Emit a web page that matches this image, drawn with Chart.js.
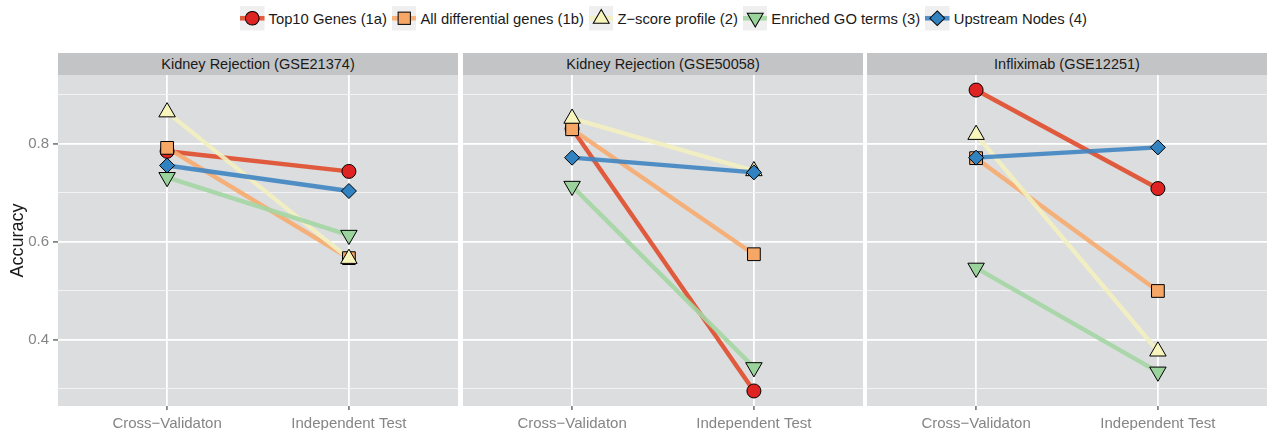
<!DOCTYPE html>
<html>
<head>
<meta charset="utf-8">
<script src="https://cdn.jsdelivr.net/npm/chart.js@4.4.0/dist/chart.umd.min.js"></script>
<style>
    body { margin: 0; background: #fff; font-family: "Liberation Sans", Arial, sans-serif; }
    #wrap { position: relative; width: 1267px; height: 430px; overflow: hidden; }
    #legend { position: absolute; top: 6px; left: 240px; height: 25px;
        display: flex; align-items: center; font-size: 14.8px; color: #1a1a1a; }
    .item { display: flex; align-items: center; }
    .item span { margin-left: 4px; margin-right: 5px; white-space: nowrap; }
    .strip { position: absolute; top: 53px; height: 22px; line-height: 22px; background: #C3C4C6;
        text-align: center; font-size: 14.5px; color: #1a1a1a; white-space: nowrap; }
    canvas { position: absolute; top: 75px; }
</style>
</head>
<body>
<div id="wrap">
    <div id="legend"></div>
    <div class="strip" style="left:58px;width:400px">Kidney Rejection (GSE21374)</div>
    <div class="strip" style="left:463px;width:400px">Kidney Rejection (GSE50058)</div>
    <div class="strip" style="left:867px;width:400px">Infliximab (GSE12251)</div>
    <canvas id="panel1" width="458" height="355" style="left:0px"></canvas>
    <canvas id="panel2" width="400" height="355" style="left:463px"></canvas>
    <canvas id="panel3" width="400" height="355" style="left:867px"></canvas>
</div>
<script>
// Data
const methods = ["Top10 Genes (1a)", "All differential genes (1b)", "Z\u2212score profile (2)", "Enriched GO terms (3)", "Upstream Nodes (4)"];
const stages = ["Cross\u2212Validaton", "Independent Test"];
// accuracy per method, [cross-validation, independent test]
const gse21374 = [[0.784, 0.743], [0.791, 0.566], [0.864, 0.565], [0.731, 0.613], [0.755, 0.703]];
const gse50058 = [[0.830, 0.295], [0.829, 0.574], [0.851, 0.744], [0.713, 0.343], [0.771, 0.741]];
const gse12251 = [[0.909, 0.708], [0.770, 0.499], [0.818, 0.376], [0.546, 0.334], [0.771, 0.792]];
const yTicks = [0.4, 0.6, 0.8];
const yGrid = [0.3, 0.4, 0.5, 0.6, 0.7, 0.8, 0.9];

// Styles
const fills = ["#DF2323", "#F6A765", "#F7F5BC", "#9AD39B", "#3182C1"];
const lineColors = ["rgba(224,76,43,0.9)", "rgba(247,171,111,0.9)", "rgba(242,240,191,0.9)", "rgba(164,214,164,0.9)", "rgba(63,133,194,0.9)"];
const shapes = [
    { style: "circle", radius: 7, rotation: 0 },
    { style: "rect", radius: 9, rotation: 0 },
    { style: "triangle", radius: 9.5, rotation: 0 },
    { style: "triangle", radius: 9.5, rotation: 180 },
    { style: "rectRot", radius: 7.5, rotation: 0 },
];
const tickGrey = "#858585";

// Legend (html)
function keySvg(i) {
    const c = fills[i];
    let mark = "";
    if (i === 0) mark = `<circle cx="12" cy="12" r="6.7" fill="${c}" stroke="#000"/>`;
    if (i === 1) mark = `<rect x="6" y="6" width="12" height="12" fill="${c}" stroke="#000"/>`;
    if (i === 2) mark = `<polygon points="12,3.5 19.8,17 4.2,17" fill="${c}" stroke="#000"/>`;
    if (i === 3) mark = `<polygon points="12,20.5 19.8,7 4.2,7" fill="${c}" stroke="#000"/>`;
    if (i === 4) mark = `<polygon points="12,4.8 19.2,12 12,19.2 4.8,12" fill="${c}" stroke="#000"/>`;
    return `<svg width="24.5" height="24.5" viewBox="0 0 24 24"><rect width="24" height="24" fill="#EFEFEF"/>` +
        `<line x1="0" y1="12" x2="24" y2="12" stroke="${lineColors[i]}" stroke-width="4.5"/>${mark}</svg>`;
}
document.getElementById("legend").innerHTML = methods
    .map((m, i) => `<div class="item">${keySvg(i)}<span>${m}</span></div>`)
    .join("");

// y range like ggplot (5% expansion)
const allVals = [gse21374, gse50058, gse12251].flat(2);
const lo = Math.min(...allVals), hi = Math.max(...allVals);
const yMin = lo - 0.05 * (hi - lo), yMax = hi + 0.05 * (hi - lo);

const isMajor = (v) => yTicks.some((t) => Math.abs(t - v) < 1e-9);

const panelBg = {
    id: "panelBg",
    beforeDraw(chart) {
        const { ctx, chartArea: a } = chart;
        ctx.save();
        ctx.fillStyle = "#DCDDDF";
        ctx.fillRect(a.left, a.top, a.right - a.left, a.bottom - a.top);
        ctx.restore();
    },
};

function makePanel(id, values, showY) {
    const datasets = [];
    values.forEach((pair, i) => {
        const pts = pair.map((v, k) => ({ x: k + 1, y: v }));
        datasets.push({
            data: pts,
            borderColor: lineColors[i],
            borderWidth: 4.4,
            pointRadius: 0,
            order: 20 - i,
        });
        datasets.push({
            data: pts,
            showLine: false,
            pointStyle: shapes[i].style,
            pointRadius: shapes[i].radius,
            rotation: shapes[i].rotation,
            backgroundColor: fills[i],
            borderColor: "#000",
            borderWidth: 1,
            order: 10 - i,
        });
    });

    return new Chart(document.getElementById(id), {
        type: "line",
        data: { datasets: datasets },
        plugins: [panelBg],
        options: {
            responsive: false,
            animation: false,
            events: [],
            layout: { padding: 0, autoPadding: false },
            plugins: { legend: { display: false }, tooltip: { enabled: false } },
            scales: {
                x: {
                    type: "linear",
                    min: 0.4,
                    max: 2.6,
                    afterBuildTicks: (s) => { s.ticks = stages.map((_, k) => ({ value: k + 1 })); },
                    afterFit: (s) => { s.height = 24; s.paddingLeft = 0; s.paddingRight = 0; },
                    ticks: {
                        autoSkip: false,
                        maxRotation: 0,
                        padding: 5,
                        color: tickGrey,
                        font: { family: "Liberation Sans", size: 15 },
                        callback: (v) => stages[v - 1] || "",
                    },
                    grid: { color: "#FFFFFF", lineWidth: 1.8, tickColor: tickGrey, tickLength: 4 },
                    border: { display: false },
                },
                y: {
                    type: "linear",
                    min: yMin,
                    max: yMax,
                    afterBuildTicks: (s) => { s.ticks = yGrid.map((v) => ({ value: v })); },
                    afterFit: (s) => { s.width = showY ? 58 : 0; s.paddingTop = 0; s.paddingBottom = 0; },
                    ticks: {
                        display: showY,
                        autoSkip: false,
                        padding: 4,
                        color: tickGrey,
                        font: { family: "Liberation Sans", size: 15 },
                        callback: (v) => (isMajor(v) ? v.toFixed(1) : ""),
                    },
                    grid: {
                        drawTicks: showY,
                        tickLength: 5,
                        color: (c) => (isMajor(c.tick.value) ? "#FFFFFF" : "#F3F3F3"),
                        lineWidth: (c) => (isMajor(c.tick.value) ? 1.8 : 1),
                        tickColor: (c) => (isMajor(c.tick.value) ? tickGrey : "rgba(0,0,0,0)"),
                    },
                    border: { display: false },
                    title: {
                        display: showY,
                        text: "Accuracy",
                        color: "#1a1a1a",
                        font: { family: "Liberation Sans", size: 18 },
                        padding: { top: 7, bottom: 0 },
                    },
                },
            },
        },
    });
}

makePanel("panel1", gse21374, true);
makePanel("panel2", gse50058, false);
makePanel("panel3", gse12251, false);
</script>
</body>
</html>
